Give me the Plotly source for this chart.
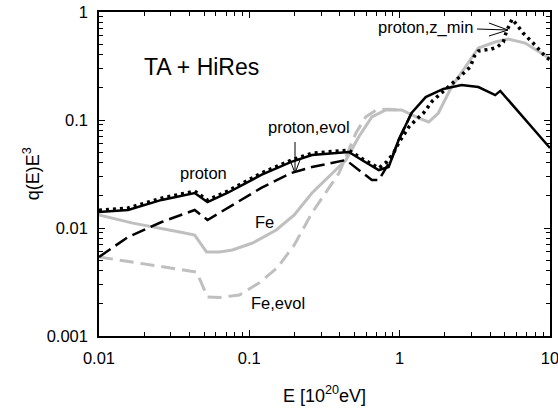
import plotly.graph_objects as go

# proton (solid black)
p_x = [0.01, 0.0156, 0.0261, 0.0433, 0.0527, 0.0714, 0.120, 0.190, 0.261, 0.459, 0.560, 0.726, 0.845, 0.984, 1.20, 1.49, 1.95, 2.58, 3.34, 4.32, 4.67, 10.0]
p_y = [0.0141, 0.0147, 0.0182, 0.0211, 0.0174, 0.0211, 0.0310, 0.0409, 0.0474, 0.0505, 0.0426, 0.0344, 0.0367, 0.0653, 0.116, 0.163, 0.194, 0.211, 0.202, 0.170, 0.186, 0.055]

# proton, z_min (dotted black)
pz_x = [0.01, 0.0156, 0.0261, 0.0433, 0.0527, 0.0714, 0.120, 0.190, 0.261, 0.459, 0.560, 0.726, 0.820, 0.912, 0.984, 1.15, 1.28, 1.44, 1.65, 2.02, 2.46, 2.95, 3.14, 3.34, 4.07, 4.46, 4.89, 5.12, 5.60, 6.04, 6.62, 7.71, 9.41, 10.0]
pz_y = [0.0146, 0.0153, 0.0189, 0.0219, 0.0181, 0.0219, 0.0322, 0.0425, 0.0493, 0.0525, 0.0440, 0.0359, 0.0409, 0.0495, 0.0612, 0.0861, 0.100, 0.116, 0.150, 0.190, 0.245, 0.310, 0.391, 0.435, 0.454, 0.474, 0.527, 0.653, 0.861, 0.758, 0.639, 0.516, 0.383, 0.36]

# proton, evol (dashed black)
pe_x = [0.01, 0.0156, 0.0261, 0.0433, 0.0527, 0.0714, 0.120, 0.190, 0.261, 0.439, 0.535, 0.653, 0.726, 0.796, 0.886, 0.984, 1.20]
pe_y = [0.00539, 0.00825, 0.01136, 0.01468, 0.01187, 0.0153, 0.0235, 0.0323, 0.0367, 0.0426, 0.0344, 0.0278, 0.0278, 0.0344, 0.0440, 0.0653, 0.116]

# Fe (solid gray)
fe_x = [0.01, 0.0168, 0.0344, 0.0433, 0.0519, 0.0633, 0.0772, 0.105, 0.151, 0.199, 0.261, 0.439, 0.535, 0.653, 0.808, 1.03, 1.34, 1.56, 1.81, 2.21, 2.74, 3.34, 4.32, 5.27, 6.83, 10.0]
fe_y = [0.0132, 0.0111, 0.00918, 0.00861, 0.0060, 0.0060, 0.00626, 0.00726, 0.00958, 0.0132, 0.0211, 0.0426, 0.070, 0.107, 0.124, 0.124, 0.104, 0.0958, 0.116, 0.202, 0.310, 0.464, 0.527, 0.562, 0.516, 0.37]

# Fe, evol (dashed gray)
fee_x = [0.01, 0.0168, 0.0446, 0.0527, 0.0633, 0.0859, 0.116, 0.153, 0.199, 0.261, 0.395, 0.512, 0.595, 0.70, 0.85, 1.0]
fee_y = [0.00539, 0.00484, 0.00391, 0.0023, 0.00227, 0.0024, 0.0031, 0.00426, 0.00696, 0.0138, 0.0323, 0.0758, 0.107, 0.124, 0.126, 0.124]

x_ticks = [0.01, 0.1, 1, 10]
x_ticktext = ["0.01", "0.1", "1", "10"]
y_ticks = [0.001, 0.01, 0.1, 1]
y_ticktext = ["0.001", "0.01", "0.1", "1"]

FONT = "Liberation Sans, Arial, sans-serif"
GRAY = "#bfbfbf"

def minor_vals(decades):
    return [m * 10.0 ** d for d in decades for m in range(2, 10)]

fig = go.Figure()
fig.add_trace(go.Scatter(x=fe_x, y=fe_y, mode="lines", line=dict(color=GRAY, width=3)))
fig.add_trace(go.Scatter(x=fee_x, y=fee_y, mode="lines", line=dict(color=GRAY, width=3, dash="14px,7px")))
fig.add_trace(go.Scatter(x=pe_x, y=pe_y, mode="lines", line=dict(color="black", width=2.5, dash="14px,6px")))
fig.add_trace(go.Scatter(x=p_x, y=p_y, mode="lines", line=dict(color="black", width=2.5)))
fig.add_trace(go.Scatter(x=pz_x, y=pz_y, mode="lines", line=dict(color="black", width=3.5, dash="3px,4px")))
# invisible anchor trace for the minor-tick overlay axes
fig.add_trace(go.Scatter(x=[0.5], y=[0.5], xaxis="x2", yaxis="y2", mode="markers",
                         marker=dict(opacity=0), hoverinfo="skip"))

axis_common = dict(
    type="log", showgrid=False, zeroline=False, showline=True, linecolor="black", linewidth=1.5,
    mirror="ticks", ticks="inside", ticklen=6, tickwidth=1.2, tickcolor="black", automargin=False,
    tickmode="array", tickfont=dict(family=FONT, size=16.5, color="black"), ticklabeloverflow="allow",
)
minor_common = dict(
    type="log", showgrid=False, zeroline=False, showline=True, linecolor="black", linewidth=1.5,
    mirror="ticks", ticks="inside", ticklen=4, tickwidth=1, tickcolor="black", automargin=False,
    tickmode="array", showticklabels=False,
)

fig.update_layout(
    width=558, height=408,
    margin=dict(l=99, r=8, t=12, b=72),
    paper_bgcolor="white", plot_bgcolor="white",
    showlegend=False,
    font=dict(family=FONT, color="black"),
    xaxis=dict(axis_common, range=[-2, 1], tickvals=x_ticks, ticktext=x_ticktext, ticklabelstandoff=6),
    yaxis=dict(axis_common, range=[-3, 0], tickvals=y_ticks, ticktext=y_ticktext, ticklabelstandoff=6),
    xaxis2=dict(minor_common, range=[-2, 1], tickvals=minor_vals([-2, -1, 0]), overlaying="x", anchor="y2", side="bottom"),
    yaxis2=dict(minor_common, range=[-3, 0], tickvals=minor_vals([-3, -2, -1]), overlaying="y", anchor="x2", side="left"),
)

def label(text, x, y, size=16.5, angle=0):
    fig.add_annotation(text=text, xref="paper", yref="paper", x=x, y=y, showarrow=False, textangle=angle,
                       font=dict(family=FONT, size=size, color="black"), xanchor="center", yanchor="middle")

label("E [10<sup>20</sup>eV]", 0.50, -0.182, 18)
label("q(E)E<sup>3</sup>", -0.15, 0.50, 18, -90)
label("TA + HiRes", 0.228, 0.830, 23)
label("proton", 0.231, 0.503)
label("proton,evol", 0.466, 0.645)
label("Fe", 0.368, 0.352)
label("Fe,evol", 0.397, 0.102)
label("proton,z_min", 0.725, 0.951)

# arrows (shaft + open V head), paper coordinates
arrow_line = dict(color="black", width=1)
fig.add_shape(type="line", xref="paper", yref="paper", x0=0.4346, y0=0.5988, x1=0.4346, y1=0.5031, line=arrow_line)
fig.add_shape(type="path", xref="paper", yref="paper", path="M 0.4235 0.5432 L 0.4346 0.5031 L 0.4457 0.5432",
              line=arrow_line, fillcolor="rgba(0,0,0,0)")
fig.add_shape(type="line", xref="paper", yref="paper", x0=0.8381, y0=0.9475, x1=0.9069, y1=0.9444, line=arrow_line)
fig.add_shape(type="path", xref="paper", yref="paper", path="M 0.8647 0.9660 L 0.9069 0.9444 L 0.8647 0.9259",
              line=arrow_line, fillcolor="rgba(0,0,0,0)")

fig.write_html("out.html")
